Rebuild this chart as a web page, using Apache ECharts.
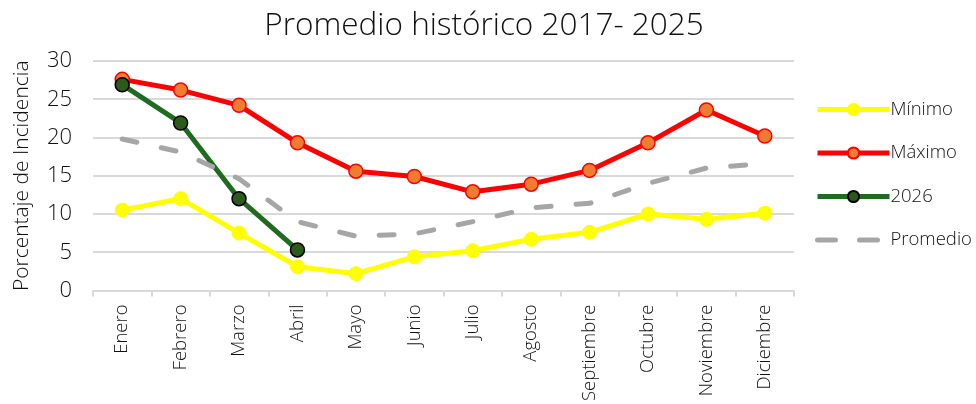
<!DOCTYPE html>
<html><head><meta charset="utf-8">
<script src="https://cdn.jsdelivr.net/npm/echarts@6/dist/echarts.min.js"></script>
<style>html,body{margin:0;padding:0;background:#fff}#c{width:976px;height:404px}</style>
</head><body><div id="c"></div>
<script>
const months = ['Enero','Febrero','Marzo','Abril','Mayo','Junio','Julio','Agosto','Septiembre','Octubre','Noviembre','Diciembre'];
const minimo = [10.5, 12.0, 7.5, 3.1, 2.2, 4.4, 5.2, 6.7, 7.6, 10.0, 9.3, 10.1];
const maximo = [27.6, 26.2, 24.2, 19.3, 15.6, 14.9, 12.9, 13.9, 15.7, 19.3, 23.6, 20.2];
const y2026 = [26.9, 21.9, 12.0, 5.3];
const promedio = [19.8, 18.1, 14.6, 9.0, 7.1, 7.4, 9.0, 10.8, 11.4, 14.0, 16.0, 16.6];
const font = '"Open Sans", Lato, sans-serif';
const txt = '#111111';
const chart = echarts.init(document.getElementById('c'), null, {renderer:'canvas'});
chart.setOption({
  animation:false,
  textStyle:{fontFamily:font},
  title:{text:'Promedio histórico 2017- 2025', left:479, textAlign:'center', top:5,
    textStyle:{fontFamily:font, fontSize:31.5, fontWeight:300, color:txt}},
  legend:{orient:'vertical', left:810, top:95, itemWidth:72, itemHeight:14, itemGap:24.5,
    textStyle:{fontFamily:font, fontSize:18.5, fontWeight:300, color:txt, padding:[0,0,0,-4]},
    data:[
      {name:'Mínimo', lineStyle:{width:5, color:'#ffff00'}},
      {name:'Máximo', lineStyle:{width:5, color:'#ff0000'}},
      {name:'2026', lineStyle:{width:5, color:'#1f6b1f'}},
      {name:'Promedio', lineStyle:{width:5, color:'#a6a6a6', type:[18,24], cap:'round'}, itemStyle:{opacity:0}}
    ]},
  grid:{left:93, right:182, top:61, bottom:113},
  xAxis:{type:'category', data:months, boundaryGap:true,
    axisLine:{lineStyle:{color:'#d9d9d9', width:2}},
    axisTick:{show:true, length:6, lineStyle:{color:'#d9d9d9', width:2}},
    axisLabel:{rotate:90, fontSize:18.5, fontWeight:300, color:txt, margin:14, fontFamily:font}},
  yAxis:{type:'value', min:0, max:30, interval:5,
    name:'Porcentaje de Incidencia', nameLocation:'middle', nameGap:60, nameRotate:90,
    nameTextStyle:{fontSize:21, fontWeight:300, color:txt, fontFamily:font},
    axisLine:{show:false}, axisTick:{show:false},
    axisLabel:{fontSize:22, fontWeight:300, color:txt, margin:21, fontFamily:font},
    splitLine:{lineStyle:{color:'#d9d9d9', width:2}}},
  series:[
    {name:'Mínimo', type:'line', data:minimo, symbol:'circle', symbolSize:14,
      lineStyle:{color:'#ffff00', width:5}, itemStyle:{color:'#ffff00', borderColor:'#ffff00', borderWidth:1}},
    {name:'Máximo', type:'line', data:maximo, symbol:'circle', symbolSize:14,
      lineStyle:{color:'#ff0000', width:5}, itemStyle:{color:'#ed7d31', borderColor:'#ff0000', borderWidth:1.5}},
    {name:'2026', type:'line', data:y2026, symbol:'circle', symbolSize:14,
      lineStyle:{color:'#1f6b1f', width:5}, itemStyle:{color:'#2b5a1a', borderColor:'#000000', borderWidth:1.5}},
    {name:'Promedio', type:'line', data:promedio, symbol:'none',
      lineStyle:{color:'#a6a6a6', width:5, type:[15,25], cap:'round'}, itemStyle:{color:'#a6a6a6'}}
  ]
});
</script></body></html>
